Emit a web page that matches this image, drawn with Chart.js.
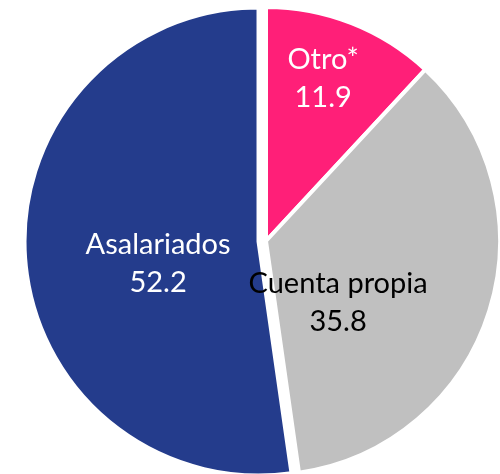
<!DOCTYPE html>
<html>
<head>
<meta charset="utf-8">
<script src="https://cdn.jsdelivr.net/npm/chart.js@4.4.1/dist/chart.umd.min.js"></script>
<style>
  html, body { margin: 0; padding: 0; background: #ffffff; overflow: hidden; }
  #wrap { position: relative; width: 500px; height: 474px; }
</style>
</head>
<body>
<div id="wrap"><canvas id="c" width="500" height="474"></canvas></div>
<script>
// ---- data ----
const categories = ['Otro*', 'Cuenta propia', 'Asalariados'];
const values = [11.9, 35.8, 52.2];

// ---- styles ----
const sliceColors = ['#FF1F78', '#C0C0C0', '#243C8C'];
const labelColors = ['#FFFFFF', '#000000', '#FFFFFF'];
const explodePx = [0, 0, 7.5];
// label anchor: fraction along the slice's angle span, fraction of radius
const labelAnchor = [[0.479, 0.696], [0.709, 0.431], [0.434, 0.481]];

const explodePlugin = {
  id: 'explode',
  beforeDatasetDraw(chart, args) {
    const ctx = chart.ctx;
    const meta = args.meta;
    ctx.save();
    const area = chart.chartArea;
    meta.data.forEach((arc, i) => {
      const p = arc.getProps(['startAngle', 'endAngle'], true);
      const mid = (p.startAngle + p.endAngle) / 2;
      ctx.save();
      ctx.translate(Math.cos(mid) * explodePx[i], Math.sin(mid) * explodePx[i]);
      arc.draw(ctx, area);
      ctx.restore();
    });
    ctx.restore();
    return false;
  }
};

const labelPlugin = {
  id: 'sliceLabels',
  afterDatasetsDraw(chart) {
    const ctx = chart.ctx;
    const meta = chart.getDatasetMeta(0);
    ctx.save();
    ctx.font = '29px Lato, "Noto Sans", sans-serif';
    ctx.textAlign = 'center';
    ctx.textBaseline = 'alphabetic';
    meta.data.forEach((arc, i) => {
      const p = arc.getProps(['x', 'y', 'startAngle', 'endAngle', 'outerRadius'], true);
      const a = p.startAngle + labelAnchor[i][0] * (p.endAngle - p.startAngle);
      const r = labelAnchor[i][1] * p.outerRadius;
      const x = p.x + Math.cos(a) * r;
      const y = p.y + Math.sin(a) * r;
      ctx.fillStyle = labelColors[i];
      ctx.fillText(categories[i], x, y - 19);
      ctx.fillText(values[i].toFixed(1), x, y + 19);
    });
    ctx.restore();
  }
};

new Chart(document.getElementById('c'), {
  type: 'pie',
  data: {
    labels: categories,
    datasets: [{
      data: values,
      backgroundColor: sliceColors,
      borderColor: '#FFFFFF',
      borderWidth: 4
    }]
  },
  options: {
    responsive: false,
    animation: false,
    radius: 234,
    layout: { padding: { left: 32, top: 8, right: 0, bottom: 0 } },
    plugins: {
      legend: { display: false },
      tooltip: { enabled: false }
    }
  },
  plugins: [explodePlugin, labelPlugin]
});
</script>
</body>
</html>
